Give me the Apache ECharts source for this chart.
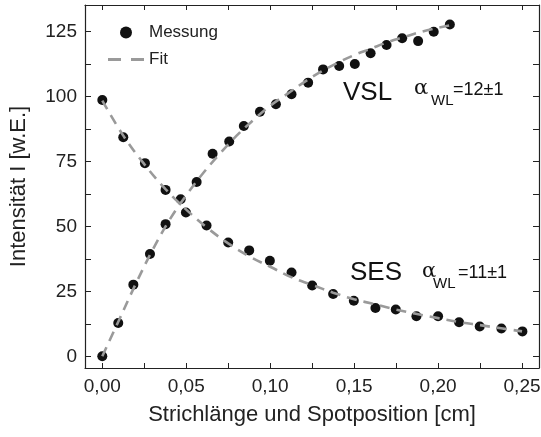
<!DOCTYPE html>
<html>
<head>
<meta charset="utf-8">
<script src="https://cdn.jsdelivr.net/npm/echarts@6/dist/echarts.min.js"></script>
<style>
  html, body { margin: 0; padding: 0; background: #fff; }
  #chart { width: 541px; height: 437px; }
</style>
</head>
<body>
<div id="chart"></div>
<script>
// Messwerte VSL (Strichlänge) und SES (Spotposition)
const vslX = [0, 0.0095, 0.0185, 0.0284, 0.0377, 0.0467, 0.0562, 0.0657, 0.0756, 0.0843, 0.0939, 0.1034,
  0.1127, 0.1226, 0.1315, 0.1411, 0.1504, 0.1598, 0.1693, 0.1786, 0.1881, 0.1974, 0.207];
const vslY = [0, 12.8, 27.6, 39.4, 50.9, 60.5, 67.1, 78, 82.7, 88.7, 94.2, 97.1,
  100.9, 105.4, 110.5, 111.8, 112.6, 116.7, 119.9, 122.5, 121.4, 125, 127.8];

const sesX = [0, 0.0125, 0.0254, 0.0377, 0.0498, 0.0621, 0.075, 0.0875, 0.0998, 0.1127, 0.125,
  0.1375, 0.1498, 0.1627, 0.1748, 0.1871, 0.2, 0.2125, 0.2248, 0.2377, 0.2502];
const sesY = [98.7, 84.4, 74.4, 64.1, 55.4, 50.4, 43.8, 40.8, 36.8, 32.3, 27.3,
  24.0, 21.4, 18.6, 18.0, 15.4, 15.4, 13.1, 11.5, 10.7, 9.6];

// Fitkurven
const vslFitX = [0, 0.01, 0.02, 0.03, 0.04, 0.05, 0.06, 0.07, 0.08, 0.09, 0.10, 0.11, 0.12, 0.13,
  0.14, 0.15, 0.16, 0.17, 0.18, 0.19, 0.207];
const vslFitY = [0, 14, 28, 41, 52.5, 62, 70.5, 78, 85, 91, 96.5, 101, 105.5, 109.5,
  113, 116, 118.5, 121, 123, 125, 127.5];

const sesFitX = [0, 0.0125, 0.025, 0.0375, 0.05, 0.0625, 0.075, 0.0875, 0.1, 0.1125, 0.125,
  0.1375, 0.15, 0.1625, 0.175, 0.1875, 0.2, 0.2125, 0.225, 0.2375, 0.25];
const sesFitY = [98.5, 85, 74, 64.5, 56.5, 49.5, 43.5, 38.5, 34.5, 30.5, 27.5,
  24.5, 22, 20, 18, 16.3, 14.7, 13.2, 12, 10.8, 9.6];

const xTicks = [0, 0.025, 0.05, 0.075, 0.1, 0.125, 0.15, 0.175, 0.2, 0.225, 0.25];
const xLabels = [0, 0.05, 0.1, 0.15, 0.2, 0.25];
const yTicks = [0, 12.5, 25, 37.5, 50, 62.5, 75, 87.5, 100, 112.5, 125];
const yLabels = [0, 25, 50, 75, 100, 125];

const pairs = (xs, ys) => xs.map((x, i) => [x, ys[i]]);

const font = 'Liberation Sans, Arial, Helvetica, sans-serif';
const axisCol = '#222';
const dotCol = '#111';
const fitCol = '#9a9a9a';
const fitStyle = { color: fitCol, width: 2.6, type: [10, 7] };

const xBase = {
  type: 'value', min: -0.0103, max: 0.2601,
  axisLine: { show: true, onZero: false, lineStyle: { color: axisCol, width: 1.2 } },
  splitLine: { show: false },
  axisTick: { show: true, inside: true, length: 5, customValues: xTicks, lineStyle: { color: axisCol } },
};
const yBase = {
  type: 'value', min: -4.5, max: 135.3,
  axisLine: { show: true, onZero: false, lineStyle: { color: axisCol, width: 1.2 } },
  splitLine: { show: false },
  axisTick: { show: true, inside: true, length: 6, customValues: yTicks, lineStyle: { color: axisCol } },
};

const chart = echarts.init(document.getElementById('chart'));
const option = {
  animation: false,
  textStyle: { fontFamily: font },
  grid: { left: 85, right: 2, top: 5, bottom: 69, containLabel: false, outerBoundsMode: 'none' },
  legend: {
    orient: 'vertical', left: 103, top: 19,
    itemWidth: 36, itemHeight: 12, itemGap: 10,
    textStyle: { fontSize: 17, color: '#222', fontFamily: font },
    data: [
      { name: 'Messung', icon: 'circle', itemStyle: { color: dotCol, opacity: 1 } },
      { name: 'Fit', icon: 'path://M0,0 L0,0.01 Z M0,4.5 H13 V7.5 H0 Z M23,4.5 H36 V7.5 H23 Z M36,12 L36,11.99 Z', itemStyle: { color: fitCol } }
    ]
  },
  xAxis: [
    Object.assign({}, xBase, {
      position: 'bottom',
      name: 'Strichlänge und Spotposition [cm]', nameLocation: 'middle', nameGap: 36,
      nameTextStyle: { fontSize: 22, color: '#222', fontFamily: font },
      axisLabel: {
        show: true, margin: 9, customValues: xLabels, fontSize: 19, color: '#222', fontFamily: font,
        formatter: v => v.toFixed(2).replace('.', ',')
      }
    }),
    Object.assign({}, xBase, { position: 'top', axisLabel: { show: false } })
  ],
  yAxis: [
    Object.assign({}, yBase, {
      position: 'left',
      name: 'Intensität I [w.E.]', nameLocation: 'middle', nameGap: 55,
      nameTextStyle: { fontSize: 22, color: '#222', fontFamily: font },
      axisLabel: {
        show: true, margin: 8, customValues: yLabels, fontSize: 19, color: '#222', fontFamily: font,
        formatter: v => String(v)
      }
    }),
    Object.assign({}, yBase, { position: 'right', axisLabel: { show: false } })
  ],
  series: [
    {
      name: 'Messung', type: 'scatter', symbol: 'circle', symbolSize: 10,
      itemStyle: { color: dotCol, opacity: 1 }, z: 2, data: pairs(vslX, vslY)
    },
    {
      name: 'Messung', type: 'scatter', symbol: 'circle', symbolSize: 10,
      itemStyle: { color: dotCol, opacity: 1 }, z: 2, data: pairs(sesX, sesY)
    },
    {
      name: 'Fit', type: 'line', smooth: 0.4, symbol: 'none', showSymbol: false,
      lineStyle: fitStyle, itemStyle: { color: fitCol }, z: 3, data: pairs(vslFitX, vslFitY)
    },
    {
      name: 'Fit', type: 'line', smooth: 0.4, symbol: 'none', showSymbol: false,
      lineStyle: fitStyle, itemStyle: { color: fitCol }, z: 3, data: pairs(sesFitX, sesFitY)
    }
  ],
  graphic: [
    { type: 'text', x: 343, y: 93, style: { text: 'VSL', font: '26px ' + font, fill: dotCol, verticalAlign: 'middle' } },
    { type: 'text', x: 414, y: 89, style: { text: 'α', font: '21px DejaVu Serif, serif', fill: dotCol, verticalAlign: 'middle' } },
    { type: 'text', x: 431, y: 101, style: { text: 'WL', font: '15px ' + font, fill: dotCol, verticalAlign: 'middle' } },
    { type: 'text', x: 453, y: 90, style: { text: '=12±1', font: '18px ' + font, fill: dotCol, verticalAlign: 'middle' } },

    { type: 'text', x: 350, y: 273, style: { text: 'SES', font: '26px ' + font, fill: dotCol, verticalAlign: 'middle' } },
    { type: 'text', x: 422, y: 272, style: { text: 'α', font: '21px DejaVu Serif, serif', fill: dotCol, verticalAlign: 'middle' } },
    { type: 'text', x: 433, y: 284, style: { text: 'WL', font: '15px ' + font, fill: dotCol, verticalAlign: 'middle' } },
    { type: 'text', x: 458, y: 273, style: { text: '=11±1', font: '18px ' + font, fill: dotCol, verticalAlign: 'middle' } }
  ]
};
chart.setOption(option);
</script>
</body>
</html>
